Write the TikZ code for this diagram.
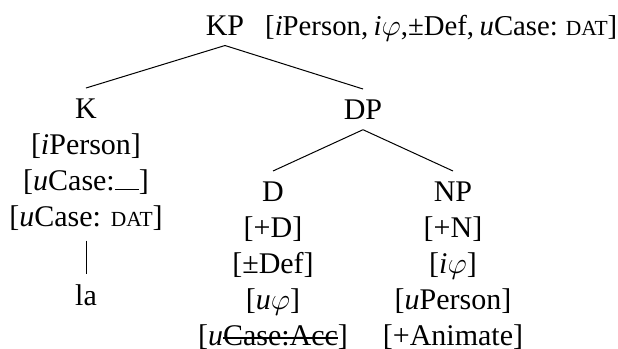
\documentclass[tikz,border=0pt]{standalone}
\usepackage{fontspec}
\setmainfont{Liberation Serif}
\usetikzlibrary{positioning}

\newcommand{\fdat}{{\fontsize{8.6}{9}\selectfont DAT}}
\newcommand{\fgap}{\rule{0.8em}{0.45pt}}
\newcommand{\ftight}{\spaceskip=2.2pt\relax}
\newsavebox{\fstrikebox}
\newcommand{\fstrike}[1]{\sbox{\fstrikebox}{#1}\rlap{\rule[0.22em]{\wd\fstrikebox}{0.45pt}}\usebox{\fstrikebox}}

\begin{document}
\begin{tikzpicture}[x=0.4pt, y=-0.4pt, node distance=4pt,
	every node/.style = {font=\fontsize{12}{14.4}\selectfont, inner sep=4pt},
	stack/.style = {align=center, anchor=north}]
	\useasboundingbox (0,0) rectangle (618,348);
	\node[anchor=base] (kp) at (225,35) {KP};
	\node[inner xsep=0pt, font=\fontsize{11.5}{14.4}\selectfont] (kpf) [base right = of kp] {\ftight[\textit{i}Person, \textit{i}$\varphi$,±Def, \textit{u}Case: \fdat]};
	\node[stack] (k) at (86,88) {K\\{}[\textit{i}Person]\\{}[\textit{u}Case:\fgap]\\{}[\textit{u}Case: \fdat]};
	\node[stack] (dp) at (363,89) {DP};
	\node[stack] (la) at (86,274) {la};
	\node[stack] (d) at (273,171) {D\\{}[+D]\\{}[±Def]\\{}[\textit{u}$\varphi$]\\{}[\textit{u}\fstrike{Case:Acc}]};
	\node[stack] (np) at (453,171) {NP\\{}[+N]\\{}[\textit{i}$\varphi$]\\{}[\textit{u}Person]\\{}[+Animate]};
	\draw[] (kp.south) -- (k.north);
	\draw[] (kp.south) -- (dp.north);
	\draw[] (k.south) -- (la.north);
	\draw[] (dp.south) -- (d.north);
	\draw[] (dp.south) -- (np.north);
\end{tikzpicture}
\end{document}
